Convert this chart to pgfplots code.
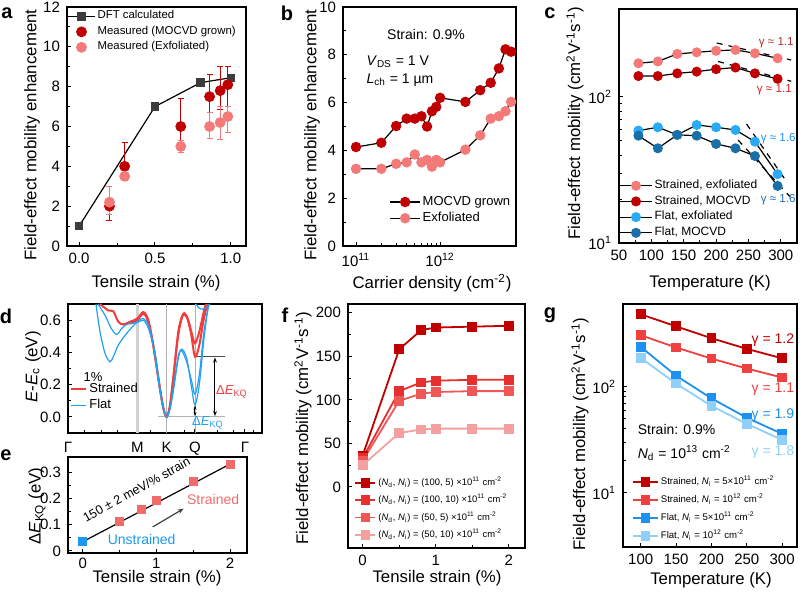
\documentclass[border=0pt]{standalone}
\usepackage{fontspec}
\setmainfont{Liberation Sans}
\usepackage{pgfplots}
\pgfplotsset{compat=1.18}
\usetikzlibrary{arrows.meta}
\definecolor{dftgray}{HTML}{3C3C3C}
\definecolor{mored}{HTML}{C00000}
\definecolor{exred}{HTML}{F47A7A}
\definecolor{flatexf}{HTML}{29AAF4}
\definecolor{flatmoc}{HTML}{1B6FA8}
\definecolor{dred}{HTML}{F23C3C}
\definecolor{dblue}{HTML}{1FA0F0}
\definecolor{esq}{HTML}{F26B6B}
\definecolor{eblue}{HTML}{1B98F0}
\definecolor{fa}{HTML}{C00000}
\definecolor{fb}{HTML}{E63030}
\definecolor{fc}{HTML}{F05858}
\definecolor{fd}{HTML}{F4A0A0}
\definecolor{ga}{HTML}{C00000}
\definecolor{gb}{HTML}{F04040}
\definecolor{gc}{HTML}{1E90F0}
\definecolor{gd}{HTML}{8FD0FA}
\definecolor{gamA}{HTML}{B03030}
\definecolor{gamB}{HTML}{D82020}
\definecolor{gamC}{HTML}{1E90FF}
\definecolor{gamD}{HTML}{1A6EC0}
\pgfplotsset{
  panel/.style={scale only axis, anchor=north west, tick pos=left, tick align=inside,
    major tick length=2.2pt, minor tick length=1.3pt, clip=false,
    axis line style={line width=0.6pt},
    every tick/.style={line width=0.5pt, black},
    tick label style={font=\fontsize{7.5}{8}\selectfont},
    /pgf/number format/assume math mode=true,
    legend cell align=left},
  tlegend/.style={draw=none, fill=none, inner sep=0pt, row sep=0pt,
    nodes={inner sep=1pt, minimum height=#1}},
  leglen/.style={legend image code/.code={\draw[mark repeat=2,mark phase=2,##1] plot coordinates {(0pt,0pt)(#1/2,0pt)(#1,0pt)};}},
}
\newcommand{\lt}[1]{\fontsize{#1}{#1}\selectfont}
\tikzset{lab/.style={font=\fontsize{8.4}{9}\selectfont, anchor=center, inner sep=0pt},
  ylab/.style={lab, rotate=90}}
\begin{document}
\begin{tikzpicture}
\path[use as bounding box] (0,0) rectangle (400pt,295.5pt);
% panel letters
\node[font=\bfseries\lt{10}] at (3.5pt,289pt) {a};
\node[font=\bfseries\lt{10}] at (143.5pt,289pt) {b};
\node[font=\bfseries\lt{10}] at (275pt,289pt) {c};
\node[font=\bfseries\lt{10}] at (3pt,137.5pt) {d};
\node[font=\bfseries\lt{10}] at (3pt,68pt) {e};
\node[font=\bfseries\lt{10}] at (142.5pt,138pt) {f};
\node[font=\bfseries\lt{10}] at (275pt,138pt) {g};
% axis labels
\node[ylab] at (16pt,228pt) {Field-effect mobility enhancement};
\node[lab] at (78pt,154pt) {Tensile strain (\%)};
\node[ylab] at (156pt,228pt) {Field-effect mobility enhancement};
\node[lab] at (216pt,154pt) {Carrier density (cm\textsuperscript{-2})};
\node[ylab] at (287.5pt,234pt) {Field-effect mobility (cm\textsuperscript{2}V\textsuperscript{-1}s\textsuperscript{-1})};
\node[lab] at (355pt,154pt) {Temperature (K)};
\node[ylab] at (16.5pt,112pt) {\textit{E}-\textit{E}\textsubscript{c} (eV)};
\node[ylab] at (18.5pt,42.5pt) {Δ\textit{E}\textsubscript{KQ} (eV)};
\node[lab] at (78.5pt,6.5pt) {Tensile strain (\%)};
\node[ylab] at (151.5pt,81.5pt) {Field-effect mobility (cm\textsuperscript{2}V\textsuperscript{-1}s\textsuperscript{-1})};
\node[lab] at (218.5pt,6.5pt) {Tensile strain (\%)};
\node[ylab] at (290pt,78.5pt) {Field-effect mobility (cm\textsuperscript{2}V\textsuperscript{-1}s\textsuperscript{-1})};
\node[lab] at (355.5pt,5.5pt) {Temperature (K)};

% ---------------- a
\begin{axis}[panel, at={(33.5pt,292pt)}, width=89.5pt, height=119.5pt,
  xmin=-0.08, xmax=1.1, ymin=0, ymax=12,
  xtick={0,0.5,1}, xticklabels={0.0,0.5,1.0}, ytick={0,2,...,12},
  minor x tick num=1, minor y tick num=1, leglen=13.5pt,
  legend style={tlegend=7.75pt, at={(0.0,0.995)}, anchor=north west, font=\lt{5.7}}]
\addplot[black, line width=0.6pt, mark=square*, mark size=1.8pt, mark options={fill=dftgray, draw=dftgray}]
  coordinates {(0,1)(0.5,7)(0.8,8.2)(1,8.45)};
\addlegendentry{DFT calculated}
\addplot[only marks, mark=*, mark size=2.5pt, mark options={fill=mored, draw=mored},
  error bars/.cd, y dir=both, y explicit, error bar style={mored, line width=0.6pt},
  error mark options={rotate=90, mored, mark size=1.5pt}]
  coordinates {(0.2,2.0) += (0,1.0) -= (0,0.7)
    (0.3,4.0) += (0,1.2) -= (0,0.5)
    (0.67,6.0) += (0,1.4) -= (0,1.0)
    (0.86,7.5) += (0,1.1) -= (0,0.8)
    (0.93,7.8) += (0,1.2) -= (0,0.95)
    (0.98,8.1) += (0,0.9) -= (0,1.1)};
\addlegendentry{Measured (MOCVD grown)}
\addplot[only marks, mark=*, mark size=2.5pt, mark options={fill=exred, draw=exred},
  error bars/.cd, y dir=both, y explicit, error bar style={exred, line width=0.6pt},
  error mark options={rotate=90, exred, mark size=1.5pt}]
  coordinates {(0.2,2.2) += (0,0.8) -= (0,0.6)
    (0.3,3.5) += (0,0.2) -= (0,0.2)
    (0.67,5.0) += (0,0.3) -= (0,0.3)
    (0.86,6.0) += (0,0.7) -= (0,0.6)
    (0.93,6.2) += (0,0.8) -= (0,0.85)
    (0.98,6.5) += (0,0.5) -= (0,0.8)};
\addlegendentry{Measured (Exfoliated)}
\end{axis}

% ---------------- b
\begin{axis}[panel, at={(171.5pt,292pt)}, width=86.5pt, height=119.5pt,
  xmode=log, xmin=7e10, xmax=8e12, ymin=0, ymax=10,
  xtick={1e11,1e12}, xticklabels={10\textsuperscript{11},10\textsuperscript{12}},
  ytick={0,2,...,10}, minor y tick num=1, leglen=15pt,
  legend style={tlegend=8pt, at={(0.98,0.08)}, anchor=south east, font=\lt{6.5}}]
\addplot[black, line width=0.6pt, mark=*, mark size=2.3pt, mark options={fill=mored, draw=mored}]
  coordinates {(1e11,4.14)(2e11,4.32)(3e11,5.02)(4e11,5.33)(5e11,5.33)(6e11,5.43)(7e11,5.0)
  (8e11,5.64)(9e11,5.82)(1e12,6.2)(2e12,6.03)(3e12,6.52)(4e12,6.83)(5e12,7.43)(6e12,8.23)(7e12,8.13)};
\addlegendentry{MOCVD grown}
\addplot[black, line width=0.6pt, mark=*, mark size=2.3pt, mark options={fill=exred, draw=exred}]
  coordinates {(1e11,3.23)(2e11,3.23)(3e11,3.44)(4e11,3.5)(5e11,3.83)(6e11,3.5)(7e11,3.6)
  (8e11,3.32)(9e11,3.6)(1e12,3.5)(2e12,4.03)(3e12,4.63)(4e12,5.33)(5e12,5.43)(6e12,5.64)(7e12,6.03)};
\addlegendentry{Exfoliated}
\node[font=\lt{7}] at (axis cs:6.8e11,8.84) {Strain: 0.9\%};
\node[font=\lt{7}, anchor=west] at (axis cs:1.1e11,7.7) {\textit{V}\textsubscript{DS} = 1 V};
\node[font=\lt{7}, anchor=west] at (axis cs:1.1e11,6.94) {\textit{L}\textsubscript{ch} = 1 µm};
\end{axis}

% ---------------- c
\begin{axis}[panel, at={(309.5pt,291pt)}, width=89pt, height=117pt,
  ymode=log, xmin=50, xmax=325, ymin=10, ymax=400,
  xtick={50,100,...,300}, minor x tick num=1,
  ytick={10,100}, yticklabels={10\textsuperscript{1},10\textsuperscript{2}},
  leglen=16pt,
  legend style={tlegend=7.5pt, at={(0.0,0.28)}, anchor=north west, font=\lt{6}}]
\addplot[black, line width=0.6pt, mark=*, mark size=2.2pt, mark options={fill=exred, draw=exred}]
  coordinates {(80,170)(110,175)(140,197)(170,202)(200,207)(230,210)(260,199)(295,184)};
\addlegendentry{Strained, exfoliated}
\addplot[black, line width=0.6pt, mark=*, mark size=2.2pt, mark options={fill=mored, draw=mored}]
  coordinates {(80,139)(110,139)(140,145)(170,149)(200,155)(230,159)(260,145)(295,133)};
\addlegendentry{Strained, MOCVD}
\addplot[black, line width=0.6pt, mark=*, mark size=2.2pt, mark options={fill=flatexf, draw=flatexf}]
  coordinates {(80,58.8)(110,62)(140,55)(170,64.3)(200,62)(230,59.4)(260,49.4)(295,29.6)};
\addlegendentry{Flat, exfoliated}
\addplot[black, line width=0.6pt, mark=*, mark size=2.2pt, mark options={fill=flatmoc, draw=flatmoc}]
  coordinates {(80,54.3)(110,44.5)(140,55)(170,54.3)(200,47.7)(230,44.5)(260,39.4)(295,24.6)};
\addlegendentry{Flat, MOCVD}
\addplot[black, dashed, line width=0.6pt, forget plot] coordinates {(201,234)(316,179)};
\addplot[black, dashed, line width=0.6pt, forget plot] coordinates {(203,175)(316,128)};
\addplot[black, dashed, line width=0.6pt, forget plot] coordinates {(247,65.3)(309,26.3)};
\addplot[black, dashed, line width=0.6pt, forget plot] coordinates {(234,50.7)(314,20.8)};
\node[font=\lt{5.8}, text=gamA] at (axis cs:293,234) {γ ≈ 1.1};
\node[font=\lt{5.8}, text=gamB] at (axis cs:290,112) {γ ≈ 1.1};
\node[font=\lt{5.8}, text=gamC] at (axis cs:296,52) {γ ≈ 1.6};
\node[font=\lt{5.8}, text=gamD] at (axis cs:296,19.7) {γ ≈ 1.6};
\end{axis}

% ---------------- d
\begin{axis}[panel, at={(34pt,143.5pt)}, width=97pt, height=64.5pt,
  xmin=0, xmax=194, ymin=-0.1, ymax=0.7,
  xtick={0,69.3,98.7,127,177}, xticklabels={Γ,M,K,Q,Γ},
  xticklabel style={yshift=-1pt},
  minor xtick={16.6,33.2,49.8,83,116.2,149.4,166,186},
  ytick={0,0.2,0.4,0.6}, yticklabels={0.0,0.2,0.4,0.6}, minor ytick={0.1,0.3,0.5},
  legend style={tlegend=8.3pt, at={(0.01,0.41)}, anchor=north west, font=\lt{6.5}},
  legend image code/.code={\draw[#1] (0pt,0pt) -- (7.5pt,0pt);}]
\addlegendimage{dred, line width=1pt}
\addlegendentry{Strained}
\addlegendimage{dblue, line width=0.9pt}
\addlegendentry{Flat}
\draw[gray!35, line width=1.3pt] (axis cs:69.3,-0.1) -- (axis cs:69.3,0.7);
\draw[gray!60, line width=0.4pt] (axis cs:98.7,-0.1) -- (axis cs:98.7,0.7);
\draw[gray!60, line width=0.4pt] (axis cs:127,-0.1) -- (axis cs:127,0.7);
\draw[gray!60, line width=0.4pt] (axis cs:90,0) -- (axis cs:157,0);
\draw[gray!60!black, line width=0.4pt] (axis cs:127,0.373) -- (axis cs:157,0.373);
\addplot[dred, line width=1pt, smooth, tension=0.5, forget plot]
  coordinates {(32,0.70)(40.3,0.66)(45.3,0.655)(50.3,0.59)(55.3,0.573)(62,0.59)(69.3,0.61)(75.3,0.65)(80.3,0.60)(85.3,0.445)(92,0.177)(95.5,0.05)(98.7,0)(102,0.07)(105.3,0.24)(110.3,0.528)(114.7,0.63)(118.7,0.62)(122.7,0.528)(127,0.373)(131.3,0.445)(135.3,0.59)(139.3,0.70)};
\addplot[dred, line width=1pt, smooth, tension=0.5, forget plot]
  coordinates {(62,0.58)(69.3,0.60)(75.3,0.64)(80.3,0.59)(85.3,0.44)(92,0.17)(95.5,0.05)(98.7,0)(102,0.07)(105.3,0.24)(110.3,0.51)(115.3,0.64)(119.7,0.61)(123.7,0.52)(127,0.456)(131.3,0.528)(136,0.66)(138,0.70)};
\addplot[dblue, line width=0.6pt, smooth, tension=0.5, forget plot]
  coordinates {(28,0.70)(32,0.528)(37,0.394)(42,0.342)(45.3,0.373)(50.3,0.445)(58.7,0.518)(69.3,0.59)(75.3,0.61)(80.3,0.57)(85.3,0.445)(92,0.157)(95.5,0.045)(98.7,0)(102,0.05)(105.3,0.157)(110.3,0.363)(113.7,0.42)(118.7,0.363)(123.7,0.177)(127,0.074)(131.3,0.2)(136,0.487)(140.3,0.693)};
\addplot[dblue, line width=0.6pt, smooth, tension=0.5, forget plot]
  coordinates {(30,0.70)(37,0.63)(43.3,0.548)(48.7,0.511)(53.7,0.548)(58.7,0.573)(69.3,0.585)(75.3,0.60)(80.3,0.55)(87,0.40)(92,0.177)(95.5,0.05)(98.7,0)(102,0.055)(105.3,0.177)(110.3,0.38)(113.7,0.41)(118.7,0.34)(123.7,0.22)(127,0.14)(131.3,0.26)(136,0.53)(141,0.70)};
\addplot[dblue, line width=0.6pt, smooth, tension=0.5, forget plot]
  coordinates {(128,0.70)(131,0.675)(135,0.668)(139,0.68)(142,0.70)};
\draw[{Stealth[length=2.5pt]}-{Stealth[length=2.5pt]}, black, line width=0.5pt] (axis cs:147,0.005) -- (axis cs:147,0.368);
\draw[{Stealth[length=2pt]}-{Stealth[length=2pt]}, black, line width=0.5pt] (axis cs:127,0.005) -- (axis cs:127,0.07);
\node[font=\lt{6.5}] at (axis cs:25,0.245) {1\%};
\node[font=\lt{6.5}, text=dred] at (axis cs:164,0.157) {Δ\textit{E}\textsubscript{KQ}};
\node[font=\lt{6.5}, text=dblue] at (axis cs:140,-0.035) {Δ\textit{E}\textsubscript{KQ}};
\end{axis}

% ---------------- e
\begin{axis}[panel, at={(34pt,67pt)}, width=89.5pt, height=48pt,
  xmin=-0.2, xmax=2.23, ymin=-0.008, ymax=0.36,
  xtick={0,1,2}, minor x tick num=1, xticklabel style={yshift=1pt},
  ytick={0,0.1,0.2,0.3}, yticklabels={0,0.1,0.2,0.3}, minor y tick num=1]
\addplot[black, line width=0.6pt] coordinates {(0,0.035)(2,0.333)};
\addplot[only marks, mark=square*, mark size=2pt, mark options={fill=esq, draw=esq}]
  coordinates {(0.5,0.115)(0.8,0.16)(1,0.193)(1.5,0.265)(2,0.333)};
\addplot[only marks, mark=square*, mark size=2pt, mark options={fill=eblue, draw=eblue}]
  coordinates {(0,0.035)};
\node[font=\lt{6.3}, rotate=29] at (axis cs:0.73,0.235) {150 ± 2 meV/\% strain};
\node[font=\lt{7}, text=esq] at (axis cs:1.77,0.196) {Strained};
\node[font=\lt{7}, text=eblue] at (axis cs:0.8,0.042) {Unstrained};
\draw[-{Stealth[length=3pt]}, gray!50!black, line width=0.6pt] (axis cs:0.95,0.092) -- (axis cs:1.37,0.162);
\end{axis}

% ---------------- f
\begin{axis}[panel, at={(174pt,143.5pt)}, width=88.5pt, height=122pt,
  xmin=-0.2, xmax=2.22, ymin=-70, ymax=210,
  xtick={0,1,2}, minor x tick num=1, ytick={0,50,...,200}, minor y tick num=1,
  leglen=10pt,
  legend style={tlegend=8.7pt, at={(0.035,0.305)}, anchor=north west, font=\lt{4.7}}]
\addplot[fa, line width=0.9pt, mark=square*, mark size=2pt]
  coordinates {(0,36)(0.5,158)(0.8,180)(1,183)(1.5,184)(2,185)};
\addlegendentry{(\textit{N}\textsubscript{d}, \textit{N}\textsubscript{i}) = (100, 5) ×10\textsuperscript{11} cm\textsuperscript{-2}}
\addplot[fb, line width=0.9pt, mark=square*, mark size=2pt]
  coordinates {(0,33)(0.5,110)(0.8,120)(1,122)(1.5,123)(2,123)};
\addlegendentry{(\textit{N}\textsubscript{d}, \textit{N}\textsubscript{i}) = (100, 10) ×10\textsuperscript{11} cm\textsuperscript{-2}}
\addplot[fc, line width=0.9pt, mark=square*, mark size=2pt]
  coordinates {(0,30)(0.5,99)(0.8,107)(1,109)(1.5,110)(2,110)};
\addlegendentry{(\textit{N}\textsubscript{d}, \textit{N}\textsubscript{i}) = (50, 5) ×10\textsuperscript{11} cm\textsuperscript{-2}}
\addplot[fd, line width=0.9pt, mark=square*, mark size=2pt]
  coordinates {(0,25)(0.5,62)(0.8,66)(1,67)(1.5,67)(2,67)};
\addlegendentry{(\textit{N}\textsubscript{d}, \textit{N}\textsubscript{i}) = (50, 10) ×10\textsuperscript{11} cm\textsuperscript{-2}}
\end{axis}

% ---------------- g
\begin{axis}[panel, at={(311.5pt,143.5pt)}, width=87pt, height=121.5pt,
  ymode=log, xmin=75, xmax=321, ymin=3.1, ymax=600,
  xtick={100,150,...,300},
  ytick={10,100}, yticklabels={10\textsuperscript{1},10\textsuperscript{2}},
  leglen=12.5pt,
  legend style={tlegend=9pt, at={(0.05,0.307)}, anchor=north west, font=\lt{4.8}}]
\addplot[ga, line width=0.9pt, mark=square*, mark size=2pt]
  coordinates {(100,480)(150,370)(200,286)(250,227)(300,185)};
\addlegendentry{Strained, \textit{N}\textsubscript{i} = 5×10\textsuperscript{11} cm\textsuperscript{-2}}
\addplot[gb, line width=0.9pt, mark=square*, mark size=2pt]
  coordinates {(100,305)(150,234)(200,184)(250,148)(300,122)};
\addlegendentry{Strained, \textit{N}\textsubscript{i} = 10\textsuperscript{12} cm\textsuperscript{-2}}
\addplot[gc, line width=0.9pt, mark=square*, mark size=2pt]
  coordinates {(100,237)(150,127)(200,77.7)(250,51)(300,36)};
\addlegendentry{Flat, \textit{N}\textsubscript{i} = 5×10\textsuperscript{11} cm\textsuperscript{-2}}
\addplot[gd, line width=0.9pt, mark=square*, mark size=2pt]
  coordinates {(100,187)(150,107)(200,66)(250,44.7)(300,31.6)};
\addlegendentry{Flat, \textit{N}\textsubscript{i} = 10\textsuperscript{12} cm\textsuperscript{-2}}
\node[font=\lt{7}, anchor=west] at (axis cs:86,39.3) {Strain: 0.9\%};
\node[font=\lt{7}, anchor=west] at (axis cs:86,23.8) {\textit{N}\textsubscript{d} = 10\textsuperscript{13} cm\textsuperscript{-2}};
\node[font=\lt{7}, text=ga] at (axis cs:287,274) {γ = 1.2};
\node[font=\lt{7}, text=gb] at (axis cs:287,94) {γ = 1.1};
\node[font=\lt{7}, text=gc] at (axis cs:287,54.5) {γ = 1.9};
\node[font=\lt{7}, text=gd] at (axis cs:287,24.5) {γ = 1.8};
\end{axis}
\end{tikzpicture}
\end{document}
